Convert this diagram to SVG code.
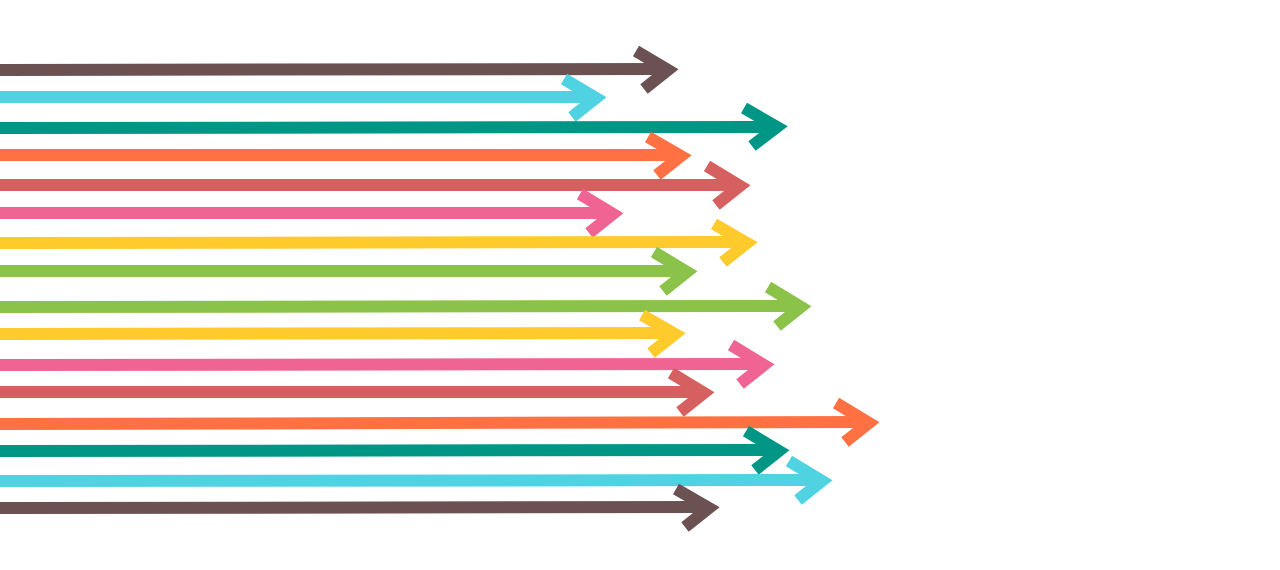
<svg xmlns="http://www.w3.org/2000/svg" width="1280" height="570" viewBox="0 0 1280 570">
<defs><style>
line,polyline{stroke-width:12;fill:none}
polyline{stroke-linejoin:miter;stroke-linecap:butt}
.br{stroke:#6b5152}.cy{stroke:#4fd3e2}.te{stroke:#009686}.or{stroke:#ff7043}.rd{stroke:#d5605f}.pk{stroke:#f06494}.ye{stroke:#ffca2c}.gr{stroke:#8bc34a}
</style></defs>
<rect width="1280" height="570" fill="#fff"/>
<g id="arrows">
<g id="a1" class="br"><line x1="0" y1="70" x2="664" y2="69"/><polyline points="636,51 668,70 644,89"/></g>
<g id="a2" class="cy"><line x1="0" y1="97" x2="592" y2="97"/><polyline points="564,79 596,98 572,117"/></g>
<g id="a3" class="te"><line x1="0" y1="128" x2="772" y2="127"/><polyline points="744,108 777,127 752,146"/></g>
<g id="a4" class="or"><line x1="0" y1="155" x2="677" y2="155"/><polyline points="648,137 681,156 657,175"/></g>
<g id="a5" class="rd"><line x1="0" y1="185" x2="736" y2="185"/><polyline points="707,166 740,186 716,205"/></g>
<g id="a6" class="pk"><line x1="0" y1="213" x2="609" y2="213"/><polyline points="580,194 613,214 589,233"/></g>
<g id="a7" class="ye"><line x1="0" y1="243" x2="743" y2="242"/><polyline points="714,224 747,243 723,262"/></g>
<g id="a8" class="gr"><line x1="0" y1="271" x2="683" y2="271"/><polyline points="654,252 687,272 663,291"/></g>
<g id="a9" class="gr"><line x1="0" y1="307" x2="797" y2="306"/><polyline points="768,287 801,307 777,326"/></g>
<g id="a10" class="ye"><line x1="0" y1="334" x2="671" y2="333"/><polyline points="642,315 675,334 651,353"/></g>
<g id="a11" class="pk"><line x1="0" y1="365" x2="760" y2="364"/><polyline points="731,345 764,365 740,384"/></g>
<g id="a12" class="rd"><line x1="0" y1="392" x2="700" y2="392"/><polyline points="671,373 704,393 680,412"/></g>
<g id="a13" class="or"><line x1="0" y1="424" x2="865" y2="422"/><polyline points="836,403 869,423 845,442"/></g>
<g id="a14" class="te"><line x1="0" y1="451" x2="775" y2="450"/><polyline points="746,431 779,451 755,470"/></g>
<g id="a15" class="cy"><line x1="0" y1="481" x2="818" y2="480"/><polyline points="789,461 822,481 798,500"/></g>
<g id="a16" class="br"><line x1="0" y1="508" x2="705" y2="507"/><polyline points="676,489 709,508 685,527"/></g>
</g>
</svg>
